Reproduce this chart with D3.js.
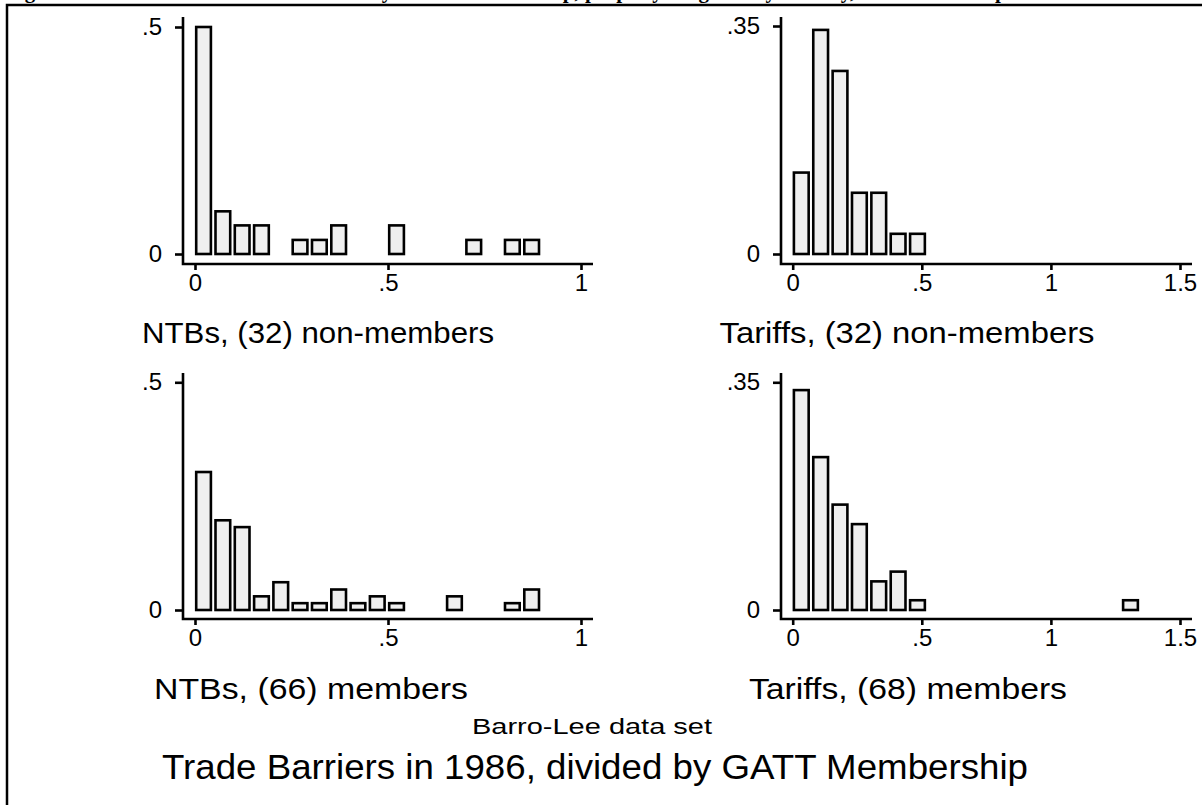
<!DOCTYPE html>
<html>
<head>
<meta charset="utf-8">
<script src="https://cdnjs.cloudflare.com/ajax/libs/d3/7.8.5/d3.min.js"></script>
<style>
  body { margin: 0; background: #fff; }
  svg { display: block; }
</style>
</head>
<body>
<div id="chart"></div>
<script>
// bin starts and fractions
var ntbNonStart = [0, .05, .1, .15, .25, .3, .35, .5, .7, .8, .85]
var ntbNonFrac  = [.5, .094, .063, .063, .031, .031, .063, .063, .031, .031, .031]

var tarNonStart = [0, .075, .15, .225, .3, .375, .45]
var tarNonFrac  = [.125, .344, .281, .094, .094, .031, .031]

var ntbMemStart = [0, .05, .1, .15, .2, .25, .3, .35, .4, .45, .5, .65, .8, .85]
var ntbMemFrac  = [.303, .197, .182, .030, .061, .015, .015, .045, .015, .030, .015, .030, .015, .045]

var tarMemStart = [0, .075, .15, .225, .3, .375, .45, 1.275]
var tarMemFrac  = [.338, .235, .162, .132, .044, .059, .015, .015]

var ntbXTicks = [0, .5, 1], ntbXTickLabels = ["0", ".5", "1"]
var tarXTicks = [0, .5, 1, 1.5], tarXTickLabels = ["0", ".5", "1", "1.5"]
var ntbYTicks = [0, .5], ntbYTickLabels = ["0", ".5"]
var tarYTicks = [0, .35], tarYTickLabels = ["0", ".35"]

var panelLabels = ["NTBs, (32) non-members", "Tariffs, (32) non-members",
                   "NTBs, (66) members", "Tariffs, (68) members"]

var topCaption = "Figure 2: Distribution of Trade Barriers by GATT Membership, properly weighted by country, Barro-Lee sample"
var subTitle = "Barro-Lee data set"
var mainTitle = "Trade Barriers in 1986, divided by GATT Membership"

var svg = d3.select("#chart").append("svg")
  .attr("width", 1202).attr("height", 805)

// caption runs off the top edge, as in the source page
svg.append("text")
  .attr("x", 6).attr("y", -2.5)
  .style("font-family", "'Liberation Serif', serif")
  .style("font-weight", "bold")
  .style("font-size", "21px")
  .text(topCaption)

// frame
svg.append("path")
  .attr("d", "M7,805V5H1202")
  .attr("fill", "none").attr("stroke", "#000").attr("stroke-width", 2.5)

var panels = [
  { starts: ntbNonStart, fracs: ntbNonFrac, bin: .05,
    xd: [0, 1], xr: [195, 581], yd: [0, .5], yr: [254, 27],
    xt: ntbXTicks, xtl: ntbXTickLabels, yt: ntbYTicks, ytl: ntbYTickLabels,
    ax: 183, axEnd: 593, ay: 263, ayTop: 17,
    label: panelLabels[0], lx: 318, ly: 343, lw: 352 },
  { starts: tarNonStart, fracs: tarNonFrac, bin: .075,
    xd: [0, 1.5], xr: [792.7, 1180], yd: [0, .35], yr: [254, 26],
    xt: tarXTicks, xtl: tarXTickLabels, yt: tarYTicks, ytl: tarYTickLabels,
    ax: 781, axEnd: 1192, ay: 263, ayTop: 17,
    label: panelLabels[1], lx: 907, ly: 343, lw: 375 },
  { starts: ntbMemStart, fracs: ntbMemFrac, bin: .05,
    xd: [0, 1], xr: [195, 581], yd: [0, .5], yr: [610, 382.3],
    xt: ntbXTicks, xtl: ntbXTickLabels, yt: ntbYTicks, ytl: ntbYTickLabels,
    ax: 183, axEnd: 593, ay: 618, ayTop: 373,
    label: panelLabels[2], lx: 311, ly: 699, lw: 314 },
  { starts: tarMemStart, fracs: tarMemFrac, bin: .075,
    xd: [0, 1.5], xr: [792.7, 1180], yd: [0, .35], yr: [610, 382.3],
    xt: tarXTicks, xtl: tarXTickLabels, yt: tarYTicks, ytl: tarYTickLabels,
    ax: 781, axEnd: 1192, ay: 618, ayTop: 373,
    label: panelLabels[3], lx: 908, ly: 699, lw: 318 }
]

panels.forEach(drawPanel)

function drawPanel(p) {
  var x = d3.scaleLinear().domain(p.xd).range(p.xr)
  var y = d3.scaleLinear().domain(p.yd).range(p.yr)
  var g = svg.append("g")

  var data = p.starts.map(function (s, i) { return { x0: s, f: p.fracs[i] } })
  var binPx = x(p.bin) - x(0)

  g.selectAll("rect").data(data).enter().append("rect")
    .attr("x", function (d) { return x(d.x0) + 1.2 })
    .attr("y", function (d) { return y(d.f) })
    .attr("width", binPx - 4.6)
    .attr("height", function (d) { return y(0) - y(d.f) })
    .attr("fill", "#efefef")
    .attr("stroke", "#000")
    .attr("stroke-width", 2.6)

  // axis lines
  g.append("path")
    .attr("d", "M" + p.ax + "," + p.ayTop + "V" + (p.ay + 1) + "H" + p.axEnd)
    .attr("fill", "none").attr("stroke", "#000").attr("stroke-width", 2.6)

  var yAxis = d3.axisLeft(y).tickValues(p.yt)
    .tickFormat(function (d, i) { return p.ytl[i] })
    .tickSizeInner(8).tickSizeOuter(0).tickPadding(13)
  var ya = g.append("g").attr("transform", "translate(" + p.ax + ",0)").call(yAxis)

  var xAxis = d3.axisBottom(x).tickValues(p.xt)
    .tickFormat(function (d, i) { return p.xtl[i] })
    .tickSizeInner(7).tickSizeOuter(0).tickPadding(4)
  var xa = g.append("g").attr("transform", "translate(0," + p.ay + ")").call(xAxis)

  ;[ya, xa].forEach(function (a) {
    a.select(".domain").remove()
    a.selectAll(".tick line").attr("stroke", "#000").attr("stroke-width", 2.6)
    a.selectAll(".tick text")
      .attr("fill", "#000")
      .style("font-family", "'Liberation Sans', Arial, sans-serif")
      .style("font-size", "24px")
  })

  g.append("text")
    .attr("x", p.lx - p.lw / 2).attr("y", p.ly)
    .attr("textLength", p.lw).attr("lengthAdjust", "spacingAndGlyphs")
    .style("font-family", "'Liberation Sans', Arial, sans-serif")
    .style("font-size", "30px")
    .text(p.label)
}

svg.append("text")
  .attr("x", 592 - 240 / 2).attr("y", 734)
  .attr("textLength", 240).attr("lengthAdjust", "spacingAndGlyphs")
  .style("font-family", "'Liberation Sans', Arial, sans-serif")
  .style("font-size", "22px")
  .text(subTitle)

svg.append("text")
  .attr("x", 162).attr("y", 779)
  .attr("textLength", 866).attr("lengthAdjust", "spacingAndGlyphs")
  .style("font-family", "'Liberation Sans', Arial, sans-serif")
  .style("font-size", "35px")
  .text(mainTitle)
</script>
</body>
</html>
